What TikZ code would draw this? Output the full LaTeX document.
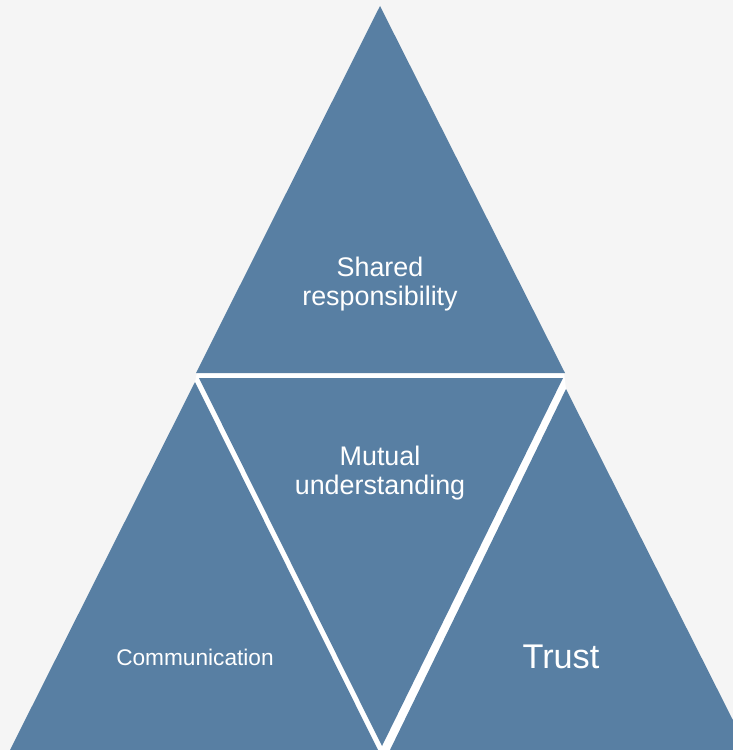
\documentclass[tikz,border=0pt]{standalone}
\usepackage{fontspec}
\setmainfont{Liberation Sans}

\definecolor{paper}{RGB}{245,245,245}
\definecolor{pyrblue}{RGB}{88,127,163}

\begin{document}
\begin{tikzpicture}[x=0.02cm,y=-0.02cm,
  block/.style={fill=pyrblue},
  blocktext/.style={text=white,align=center,inner sep=0pt,
    font=\fontsize{15.3}{16.5}\selectfont}]
\useasboundingbox (0,0) rectangle (733,750);
\fill[paper] (0,0) rectangle (733,750);

\begin{scope}
  \clip (0,0) rectangle (733,750);
  %% white seams between the pieces
  \fill[white] (197,372) -- (564,372) -- (566,389) -- (390,750)
    -- (378,750) -- (195,382) -- cycle;
  %% Upper triangle and the upside-down one under it
  \fill[block] (380,6) -- (196,373) -- (565,373) -- cycle;
  \fill[block] (199,378) -- (563,378) -- (382,746) -- cycle;
  %% Bottom corners
  \fill[block] (195,382) -- (10,750) -- (378,750) -- cycle;
  \fill[block] (566,389) -- (390,750) -- (748,750) -- cycle;
\end{scope}

%% Labels
\node[blocktext] (shared) at (380,284) {Shared\\responsibility};
\node[blocktext] (mutual) at (380,473) {Mutual\\understanding};
\node[blocktext,font=\fontsize{12.9}{14}\selectfont] (comm) at (195,657) {Communication};
\node[blocktext,font=\fontsize{19.5}{21}\selectfont] (trust) at (561,657) {Trust};
\end{tikzpicture}
\end{document}
